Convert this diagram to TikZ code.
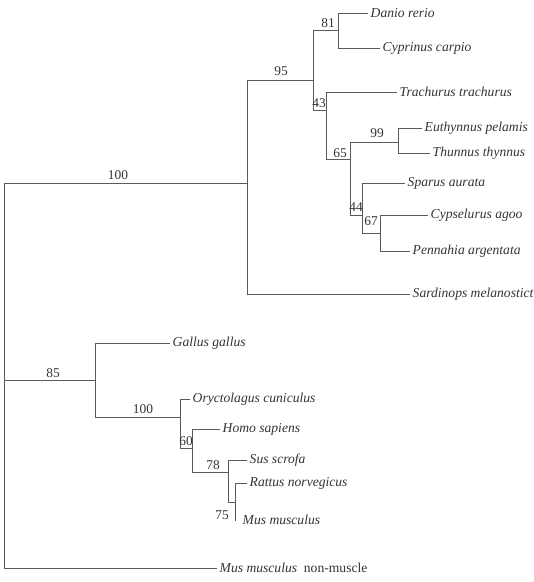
\documentclass[tikz,border=0pt]{standalone}
\usepackage{fontspec}
\setmainfont{Liberation Serif}
\definecolor{ln}{HTML}{5A5A5A}
\definecolor{tx}{HTML}{333333}
\begin{document}
\begin{tikzpicture}[x=1pt,y=-1pt,
  br/.style={draw=ln,line width=0.9pt},
  leaf/.style={anchor=west,inner sep=2.5pt,text=tx,font=\fontsize{13.6}{15}\selectfont\itshape},
  boot/.style={inner sep=0pt,text=tx,font=\fontsize{13.4}{15}\selectfont}]
\useasboundingbox (0,0) rectangle (534,582);
% internal nodes
\coordinate (root) at (4,380);
\coordinate (n100) at (247,183);
\coordinate (n95) at (313,80);
\coordinate (n81) at (338,30);
\coordinate (n43) at (326,110);
\coordinate (n65) at (350,159);
\coordinate (n99) at (398,142);
\coordinate (n44) at (362,215);
\coordinate (n67) at (380,233);
\coordinate (n85) at (95,380);
\coordinate (n100b) at (180,417);
\coordinate (n60) at (192,448);
\coordinate (n78) at (228,472);
\coordinate (n75) at (235,502);
\coordinate (mmend) at (235,521);
% leaves
\node[leaf] (danio) at (368,13) {Danio rerio};
\node[leaf] (cyp) at (380,48) {Cyprinus carpio};
\node[leaf] (trach) at (397,92) {Trachurus trachurus};
\node[leaf] (euth) at (422,128) {Euthynnus pelamis};
\node[leaf] (thun) at (430,153) {Thunnus thynnus};
\node[leaf] (spar) at (405,183) {Sparus aurata};
\node[leaf] (cyps) at (428,215) {Cypselurus agoo};
\node[leaf] (penn) at (410,251) {Pennahia argentata};
\node[leaf] (sard) at (410,294) {Sardinops melanostict};
\node[leaf] (gall) at (170,343) {Gallus gallus};
\node[leaf] (oryc) at (190,399) {Oryctolagus cuniculus};
\node[leaf] (homo) at (220,429) {Homo sapiens};
\node[leaf] (sus) at (247,460) {Sus scrofa};
\node[leaf] (ratt) at (247,483) {Rattus norvegicus};
\node[leaf] (mus) at (240,520) {Mus musculus};
\node[leaf] (nm) at (217,568) {Mus musculus\upshape\ \ non-muscle};
% branches
\draw[br] (root) |- (n100);
\draw[br] (root) |- (n85);
\draw[br] (root) |- (nm.west);
\draw[br] (n100) |- (n95);
\draw[br] (n100) |- (sard.west);
\draw[br] (n95) |- (n81);
\draw[br] (n95) |- (n43);
\draw[br] (n81) |- (danio.west);
\draw[br] (n81) |- (cyp.west);
\draw[br] (n43) |- (trach.west);
\draw[br] (n43) |- (n65);
\draw[br] (n65) |- (n99);
\draw[br] (n65) |- (n44);
\draw[br] (n99) |- (euth.west);
\draw[br] (n99) |- (thun.west);
\draw[br] (n44) |- (spar.west);
\draw[br] (n44) |- (n67);
\draw[br] (n67) |- (cyps.west);
\draw[br] (n67) |- (penn.west);
\draw[br] (n85) |- (gall.west);
\draw[br] (n85) |- (n100b);
\draw[br] (n100b) |- (oryc.west);
\draw[br] (n100b) |- (n60);
\draw[br] (n60) |- (homo.west);
\draw[br] (n60) |- (n78);
\draw[br] (n78) |- (sus.west);
\draw[br] (n78) |- (n75);
\draw[br] (n75) |- (ratt.west);
\draw[br] (n75) |- (mmend);
% bootstrap values
\node[boot] (b100) at (118,175) {100};
\node[boot] (b95) at (281,71) {95};
\node[boot] (b81) at (328,23) {81};
\node[boot] (b43) at (319,103) {43};
\node[boot] (b99) at (377,133) {99};
\node[boot] (b65) at (340,153) {65};
\node[boot] (b44) at (356,207) {44};
\node[boot] (b67) at (371,221) {67};
\node[boot] (b85) at (53,373) {85};
\node[boot] (b100b) at (143,409) {100};
\node[boot] (b60) at (186,441) {60};
\node[boot] (b78) at (213,465) {78};
\node[boot] (b75) at (222,515) {75};
\end{tikzpicture}
\end{document}
